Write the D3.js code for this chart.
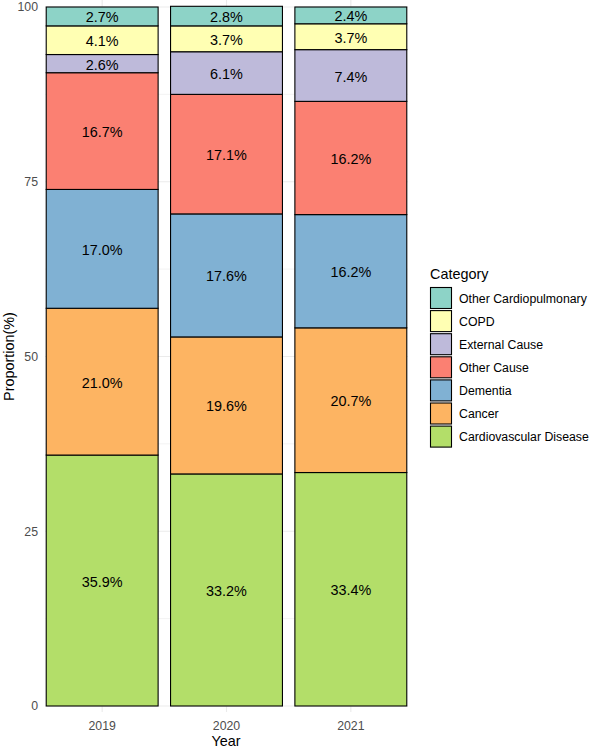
<!DOCTYPE html>
<html>
<head>
<meta charset="utf-8">
<script src="https://cdn.jsdelivr.net/npm/d3@7"></script>
<style>
  html, body { margin: 0; padding: 0; background: #fff; }
  svg { display: block; font-family: "Liberation Sans", Arial, sans-serif; }
</style>
</head>
<body>
<svg id="chart" width="600" height="750"></svg>
<script>
// ---- data ----
const years = ["2019", "2020", "2021"];
// stacking order bottom -> top
const categories = ["Cardiovascular Disease", "Cancer", "Dementia", "Other Cause", "External Cause", "COPD", "Other Cardiopulmonary"];
const cardiovascular = [35.9, 33.2, 33.4];
const cancer = [21.0, 19.6, 20.7];
const dementia = [17.0, 17.6, 16.2];
const otherCause = [16.7, 17.1, 16.2];
const externalCause = [2.6, 6.1, 7.4];
const copd = [4.1, 3.7, 3.7];
const otherCardiopulmonary = [2.7, 2.8, 2.4];
const colors = ["#B3DE69", "#FDB462", "#80B1D3", "#FB8072", "#BEBADA", "#FFFFB3", "#8DD3C7"];
const yTicks = [0, 25, 50, 75, 100];
const yMinorTicks = [12.5, 37.5, 62.5, 87.5];

const seriesValues = [cardiovascular, cancer, dementia, otherCause, externalCause, copd, otherCardiopulmonary];
const rows = years.map((y, i) => {
  const r = { year: y };
  categories.forEach((c, k) => { r[c] = seriesValues[k][i]; });
  return r;
});

// ---- layout ----
const svg = d3.select("#chart");
const panel = { left: 40, right: 413, top: 0, bottom: 712 };

const x = d3.scaleBand().domain(years)
  .range([panel.left, panel.right])
  .paddingInner(0.1).paddingOuter(0.05);
const y = d3.scaleLinear().domain([0, 100]).range([706, 7]);

const gridL = x(years[0]) - 1, gridR = x(years[years.length - 1]) + x.bandwidth() + 1;

// gridlines
const grid = svg.append("g");
grid.selectAll("line.minor").data(yMinorTicks).join("line")
  .attr("x1", gridL).attr("x2", gridR)
  .attr("y1", d => y(d)).attr("y2", d => y(d))
  .attr("stroke", "#ebebeb").attr("stroke-width", 0.6);
grid.selectAll("line.major").data(yTicks).join("line")
  .attr("x1", gridL).attr("x2", gridR)
  .attr("y1", d => y(d)).attr("y2", d => y(d))
  .attr("stroke", "#ebebeb").attr("stroke-width", 1.1);
grid.selectAll("line.vx").data(years).join("line")
  .attr("x1", d => x(d) + x.bandwidth() / 2).attr("x2", d => x(d) + x.bandwidth() / 2)
  .attr("y1", panel.top).attr("y2", panel.bottom)
  .attr("stroke", "#ebebeb").attr("stroke-width", 1.1);

// stacked bars
const stack = d3.stack().keys(categories)(rows);
const color = d3.scaleOrdinal().domain(categories).range(colors);

const layers = svg.append("g").selectAll("g").data(stack).join("g")
  .attr("fill", d => color(d.key));
layers.selectAll("rect").data(d => d).join("rect")
  .attr("x", d => x(d.data.year))
  .attr("width", x.bandwidth())
  .attr("y", d => y(d[1]))
  .attr("height", d => y(d[0]) - y(d[1]))
  .attr("stroke", "#000").attr("stroke-width", 1.1);

// value labels
const labels = svg.append("g");
stack.forEach(layer => {
  layer.forEach(d => {
    labels.append("text")
      .attr("x", x(d.data.year) + x.bandwidth() / 2)
      .attr("y", (y(d[0]) + y(d[1])) / 2)
      .attr("dy", "0.42em")
      .attr("text-anchor", "middle")
      .attr("font-size", 14.4)
      .attr("fill", "#000")
      .text(d.data[layer.key].toFixed(1) + "%");
  });
});

// axes (no lines)
const yAxis = svg.append("g")
  .attr("transform", `translate(${panel.left},0)`)
  .call(d3.axisLeft(y).tickValues(yTicks).tickSize(0).tickPadding(2).tickFormat(d3.format("d")));
yAxis.select(".domain").remove();
yAxis.selectAll("text").attr("font-size", 12.3).attr("fill", "#4d4d4d")
  .attr("font-family", "Liberation Sans, Arial, sans-serif");

const xAxis = svg.append("g")
  .attr("transform", `translate(0,${panel.bottom})`)
  .call(d3.axisBottom(x).tickSize(0).tickPadding(9));
xAxis.select(".domain").remove();
xAxis.selectAll("text").attr("font-size", 12.3).attr("fill", "#4d4d4d")
  .attr("font-family", "Liberation Sans, Arial, sans-serif");

// axis titles
svg.append("text")
  .attr("x", (x(years[0]) + gridR) / 2 - 1).attr("y", 746)
  .attr("text-anchor", "middle").attr("font-size", 14.4).attr("fill", "#000")
  .text("Year");
svg.append("text")
  .attr("transform", `translate(14,${y(50)}) rotate(-90)`)
  .attr("text-anchor", "middle").attr("font-size", 14.4).attr("fill", "#000")
  .text("Proportion(%)");

// legend
const legend = svg.append("g").attr("transform", "translate(430,0)");
legend.append("text").attr("x", 0).attr("y", 279)
  .attr("font-size", 14.4).attr("fill", "#000").text("Category");
const legendOrder = categories.slice().reverse();
const keyStep = 23.1, keyTop = 287.5, keySize = 21;
legendOrder.forEach((c, i) => {
  const ky = keyTop + i * keyStep;
  legend.append("rect")
    .attr("x", 0.5).attr("y", ky).attr("width", keySize).attr("height", keySize)
    .attr("fill", color(c)).attr("stroke", "#000").attr("stroke-width", 1.1);
  legend.append("text")
    .attr("x", 29).attr("y", ky + keySize / 2).attr("dy", "0.38em")
    .attr("font-size", 12.3).attr("fill", "#000").text(c);
});
</script>
</body>
</html>
